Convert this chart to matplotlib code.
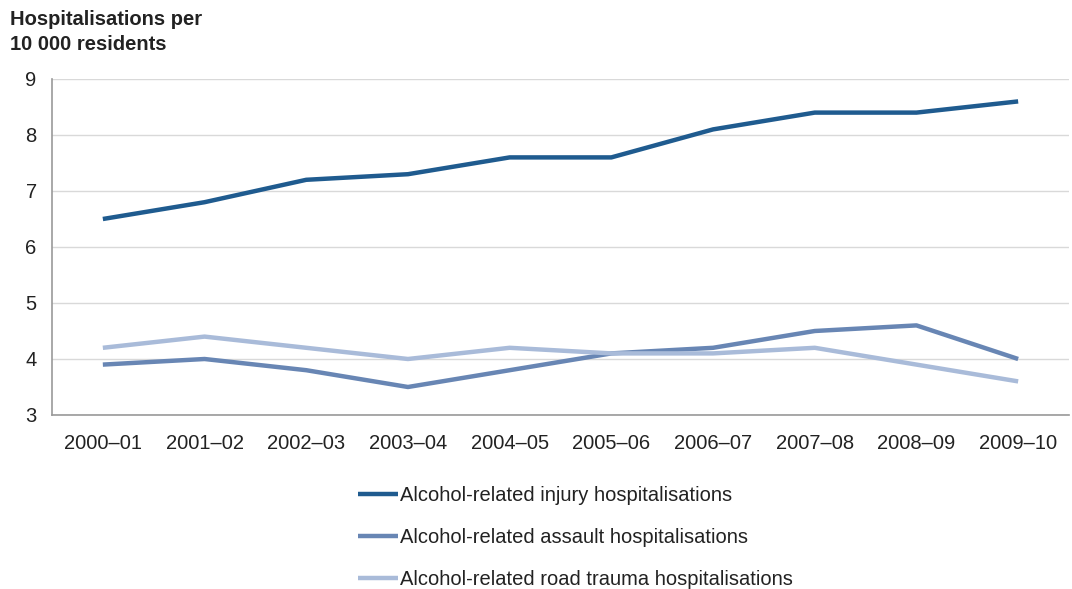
import matplotlib
matplotlib.use("Agg")
import matplotlib.pyplot as plt

plt.rcParams['font.family'] = ['Liberation Sans', 'DejaVu Sans']

years = ["2000–01", "2001–02", "2002–03", "2003–04", "2004–05",
         "2005–06", "2006–07", "2007–08", "2008–09", "2009–10"]
injury = [6.5, 6.8, 7.2, 7.3, 7.6, 7.6, 8.1, 8.4, 8.4, 8.6]
assault = [3.9, 4.0, 3.8, 3.5, 3.8, 4.1, 4.2, 4.5, 4.6, 4.0]
road = [4.2, 4.4, 4.2, 4.0, 4.2, 4.1, 4.1, 4.2, 3.9, 3.6]
labels = ["Alcohol-related injury hospitalisations",
          "Alcohol-related assault hospitalisations",
          "Alcohol-related road trauma hospitalisations"]
colors = ["#1F5B8F", "#6886B4", "#A9BBD9"]
yticks = [3, 4, 5, 6, 7, 8, 9]

FS = 14.5

fig = plt.figure(figsize=(10.72, 5.89), dpi=100)
ax = fig.add_axes([52/1072, 1-415/589, (1069-52)/1072, (415-79)/589])

x = list(range(len(years)))
lines = []
for data, c, lab in [(injury, colors[0], labels[0]),
                     (assault, colors[1], labels[1]),
                     (road, colors[2], labels[2])]:
    l, = ax.plot(x, data, color=c, lw=3.2, label=lab, solid_capstyle='butt', zorder=3)
    lines.append(l)

ax.set_xlim(-0.5, len(years) - 0.5)
ax.set_ylim(3, 9)
ax.set_yticks(yticks)
ax.set_xticks(x)
ax.set_xticklabels(years)
ax.tick_params(axis='both', length=0, labelsize=FS, colors='#222222')
ax.tick_params(axis='x', pad=14)
ax.tick_params(axis='y', pad=11)
ax.grid(axis='y', color='#D9D9D9', lw=1)
ax.set_axisbelow(True)
for s in ['top', 'right']:
    ax.spines[s].set_visible(False)
ax.spines['left'].set_color('#999999')
ax.spines['bottom'].set_color('#999999')
ax.spines['left'].set_linewidth(1.2)
ax.spines['bottom'].set_linewidth(1.2)

fig.text(10/1072, 1-10/589, "Hospitalisations per\n10 000 residents", fontsize=FS,
         fontweight='bold', va='top', ha='left', color='#222222', linespacing=1.4)

fig.legend(handles=lines, loc='upper left', bbox_to_anchor=(348/1072, 1-476/589),
           frameon=False, fontsize=FS, handlelength=2.0, handletextpad=0.1,
           labelspacing=1.14, borderpad=0, labelcolor='#222222')

fig.savefig("out.png", dpi=100)
